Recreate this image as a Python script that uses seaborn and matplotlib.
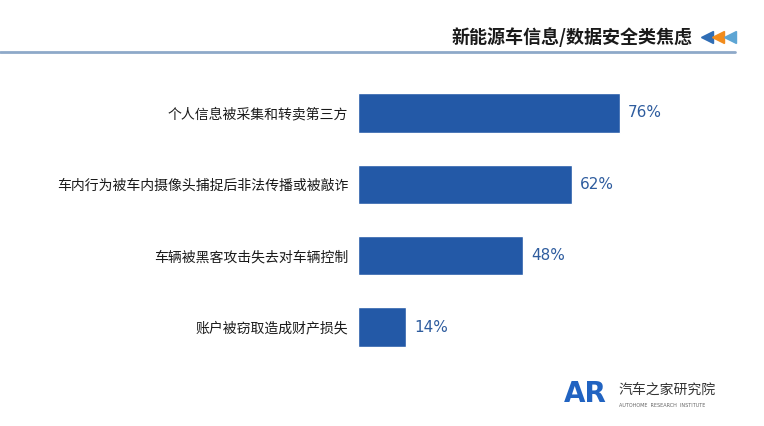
import pandas as pd
import matplotlib
matplotlib.use("Agg")
import matplotlib.pyplot as plt
import seaborn as sns
from matplotlib.lines import Line2D

categories = ['个人信息被采集和转卖第三方',
              '车内行为被车内摄像头捕捉后非法传播或被敲诈',
              '车辆被黑客攻击失去对车辆控制',
              '账户被窃取造成财产损失']
values = [76, 62, 48, 14]

df = pd.DataFrame({'item': categories, 'pct': values})

sns.set_style('white')
plt.rcParams['font.family'] = ['Noto Sans CJK SC', 'DejaVu Sans']

fig = plt.figure(figsize=(7.64, 4.26), dpi=100)
ax = fig.add_axes([0.4686, 0.1486, 0.4512, 0.670])

sns.barplot(data=df, x='pct', y='item', color='#2359A7', width=0.55,
            saturation=1, ax=ax)
ax.set_xlim(0, 100)
ax.set_xlabel('')
ax.set_ylabel('')
ax.set_xticks([])
ax.tick_params(axis='y', length=0, pad=7, labelsize=10, labelcolor='#1a1a1a')
sns.despine(ax=ax, left=True, bottom=True)

for i, v in enumerate(values):
    ax.text(v + 2.3, i, f'{v}%', va='center', ha='left', fontsize=11,
            color='#2E5C9E', family=['DejaVu Sans'])

# header
fig.text(0.907, 0.913, '新能源车信息/数据安全类焦虑', ha='right', va='center',
         fontsize=13, fontweight='bold', color='#1a1a1a')
fig.add_artist(Line2D([0, 0.962], [0.877, 0.877], color='#8EA9C9', lw=2))
for xx, col in zip([0.925, 0.940, 0.955], ['#2F6DB5', '#F28C1C', '#5DA5D4']):
    fig.add_artist(Line2D([xx], [0.913], marker='<', markersize=9,
                          color=col, linestyle='none'))

# logo
fig.text(0.738, 0.075, 'AR', ha='left', va='center', fontsize=20,
         fontweight='bold', color='#2163C1', family=['DejaVu Sans'])
fig.text(0.810, 0.085, '汽车之家研究院', ha='left', va='center', fontsize=10,
         color='#333333')
fig.text(0.810, 0.047, 'AUTOHOME  RESEARCH  INSTITUTE', ha='left', va='center',
         fontsize=3.5, color='#666666', family=['DejaVu Sans'])

fig.savefig('out.png', dpi=100, facecolor='white')
